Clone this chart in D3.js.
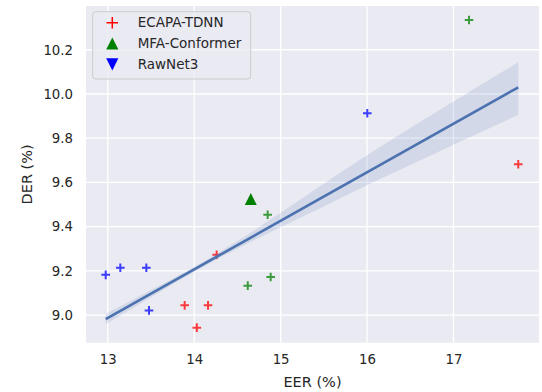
<!DOCTYPE html>
<html>
<head>
<meta charset="utf-8">
<script src="https://cdn.jsdelivr.net/npm/d3@7"></script>
<style>
  body { margin: 0; background: #fff; }
  text { font-family: "DejaVu Sans", sans-serif; fill: #262626; }
</style>
</head>
<body>
<svg id="chart" width="542" height="392"></svg>
<script>
// data
var groups = ["ECAPA-TDNN", "MFA-Conformer", "RawNet3"];
var groupColors = ["red", "green", "blue"];
var groupMarkers = ["plus", "triangleUp", "triangleDown"];

var ecapaEER = [14.26, 13.89, 14.16, 14.03, 17.75];
var ecapaDER = [9.273, 9.044, 9.044, 8.943, 9.682];
var mfaEER = [14.85, 14.62, 14.885, 17.18];
var mfaDER = [9.454, 9.133, 9.172, 10.335];
var mfaMainEER = [14.655];
var mfaMainDER = [9.525];
var rawnetEER = [12.976, 13.145, 13.446, 13.477, 16.003];
var rawnetDER = [9.182, 9.214, 9.214, 9.021, 9.913];

// confidence band around the fit, offsets above / below the line
var ciX = [12.976, 13.5, 14.0, 14.5, 15.0, 15.5, 16.0, 16.5, 17.0, 17.751];
var ciUp = [0.023, 0.016, 0.011, 0.018, 0.036, 0.058, 0.077, 0.090, 0.100, 0.113];
var ciDown = [0.023, 0.016, 0.011, 0.016, 0.029, 0.045, 0.059, 0.077, 0.095, 0.125];

var xTicks = [13, 14, 15, 16, 17];
var yTicks = [9.0, 9.2, 9.4, 9.6, 9.8, 10.0, 10.2];

var svg = d3.select("#chart");
var pLeft = 86, pTop = 6, pRight = 539, pBottom = 342.7;

var x = d3.scaleLinear().domain([12.748, 17.99]).range([pLeft, pRight]);
var y = d3.scaleLinear().domain([8.875, 10.398]).range([pBottom, pTop]);

svg.append("rect")
  .attr("x", pLeft).attr("y", pTop)
  .attr("width", pRight - pLeft).attr("height", pBottom - pTop)
  .attr("fill", "#eaeaf2");

// grid
svg.append("g").selectAll("line").data(xTicks).enter().append("line")
  .attr("x1", d => x(d)).attr("x2", d => x(d))
  .attr("y1", pTop).attr("y2", pBottom)
  .attr("stroke", "#fff").attr("stroke-width", 1.3);
svg.append("g").selectAll("line").data(yTicks).enter().append("line")
  .attr("x1", pLeft).attr("x2", pRight)
  .attr("y1", d => y(d)).attr("y2", d => y(d))
  .attr("stroke", "#fff").attr("stroke-width", 1.3);

// axes (no ticks, no domain)
var xAxis = svg.append("g")
  .attr("transform", "translate(0," + pBottom + ")")
  .call(d3.axisBottom(x).tickValues(xTicks).tickSize(0).tickPadding(12).tickFormat(d3.format("d")));
var yAxis = svg.append("g")
  .attr("transform", "translate(" + pLeft + ",0)")
  .call(d3.axisLeft(y).tickValues(yTicks).tickSize(0).tickPadding(13).tickFormat(d3.format(".1f")));
[xAxis, yAxis].forEach(function(a) {
  a.select(".domain").remove();
  a.selectAll("text").attr("font-size", 13.3).attr("fill", "#262626")
    .style("font-family", "DejaVu Sans, sans-serif");
});

svg.append("text")
  .attr("x", (pLeft + pRight) / 2).attr("y", 387)
  .attr("text-anchor", "middle").attr("font-size", 14.5)
  .text("EER (%)");
svg.append("text")
  .attr("transform", "translate(32," + ((pTop + pBottom) / 2) + ") rotate(-90)")
  .attr("text-anchor", "middle").attr("font-size", 14.5)
  .text("DER (%)");

// scatter points
function plusPath(s) {
  return "M" + (-s) + ",0H" + s + "M0," + (-s) + "V" + s;
}
function triPath(s, up) {
  var d = up ? 1 : -1;
  return "M0," + (-s * d) + "L" + (-s) + "," + (s * d) + "L" + s + "," + (s * d) + "Z";
}

var crossSets = [
  { ex: ecapaEER, de: ecapaDER, color: "red" },
  { ex: mfaEER, de: mfaDER, color: "green" },
  { ex: rawnetEER, de: rawnetDER, color: "blue" }
];
var points = svg.append("g");
crossSets.forEach(function(set) {
  points.selectAll(null)
    .data(set.ex.map((v, i) => [v, set.de[i]]))
    .enter().append("path")
      .attr("transform", d => "translate(" + x(d[0]) + "," + y(d[1]) + ")")
      .attr("d", plusPath(4.3))
      .attr("stroke", set.color)
      .attr("stroke-opacity", 0.75)
      .attr("stroke-width", 2)
      .attr("fill", "none");
});
points.selectAll(null)
  .data(mfaMainEER.map((v, i) => [v, mfaMainDER[i]]))
  .enter().append("path")
    .attr("transform", d => "translate(" + x(d[0]) + "," + y(d[1]) + ")")
    .attr("d", triPath(6, true))
    .attr("fill", "green");

// linear fit over every point
var allX = ecapaEER.concat(mfaEER, mfaMainEER, rawnetEER);
var allY = ecapaDER.concat(mfaDER, mfaMainDER, rawnetDER);
var mx = d3.mean(allX), my = d3.mean(allY);
var sxy = d3.sum(allX, (v, i) => (v - mx) * (allY[i] - my));
var sxx = d3.sum(allX, v => (v - mx) * (v - mx));
var slope = sxy / sxx, icpt = my - slope * mx;
var fit = v => icpt + slope * v;

var band = d3.area()
  .x(d => x(d))
  .y0((d, i) => y(fit(d) - ciDown[i]))
  .y1((d, i) => y(fit(d) + ciUp[i]))
  .curve(d3.curveMonotoneX);
svg.append("path")
  .attr("d", band(ciX))
  .attr("fill", "#4c72b0")
  .attr("fill-opacity", 0.15);

var xMin = d3.min(allX), xMax = d3.max(allX);
svg.append("line")
  .attr("x1", x(xMin)).attr("y1", y(fit(xMin)))
  .attr("x2", x(xMax)).attr("y2", y(fit(xMax)))
  .attr("stroke", "#4c72b0").attr("stroke-width", 2.6);

// legend
var lg = svg.append("g");
lg.append("rect")
  .attr("x", 92.7).attr("y", 11.7)
  .attr("width", 158).attr("height", 67.3)
  .attr("rx", 3)
  .attr("fill", "#eaeaf2").attr("fill-opacity", 0.8)
  .attr("stroke", "#cccccc").attr("stroke-width", 1);
var rows = lg.selectAll("g.row").data(groups).enter().append("g")
  .attr("class", "row")
  .attr("transform", (d, i) => "translate(112.3," + (22.7 + i * 20.8) + ")");
rows.append("path")
  .attr("d", (d, i) => groupMarkers[i] == "plus" ? plusPath(5.8)
        : triPath(6.1, groupMarkers[i] == "triangleUp"))
  .attr("fill", (d, i) => groupMarkers[i] == "plus" ? "none" : groupColors[i])
  .attr("stroke", (d, i) => groupMarkers[i] == "plus" ? groupColors[i] : "none")
  .attr("stroke-width", 1.5);
rows.append("text")
  .attr("x", 25.4).attr("dy", "0.35em")
  .attr("font-size", 13.5)
  .text(d => d);
</script>
</body>
</html>
